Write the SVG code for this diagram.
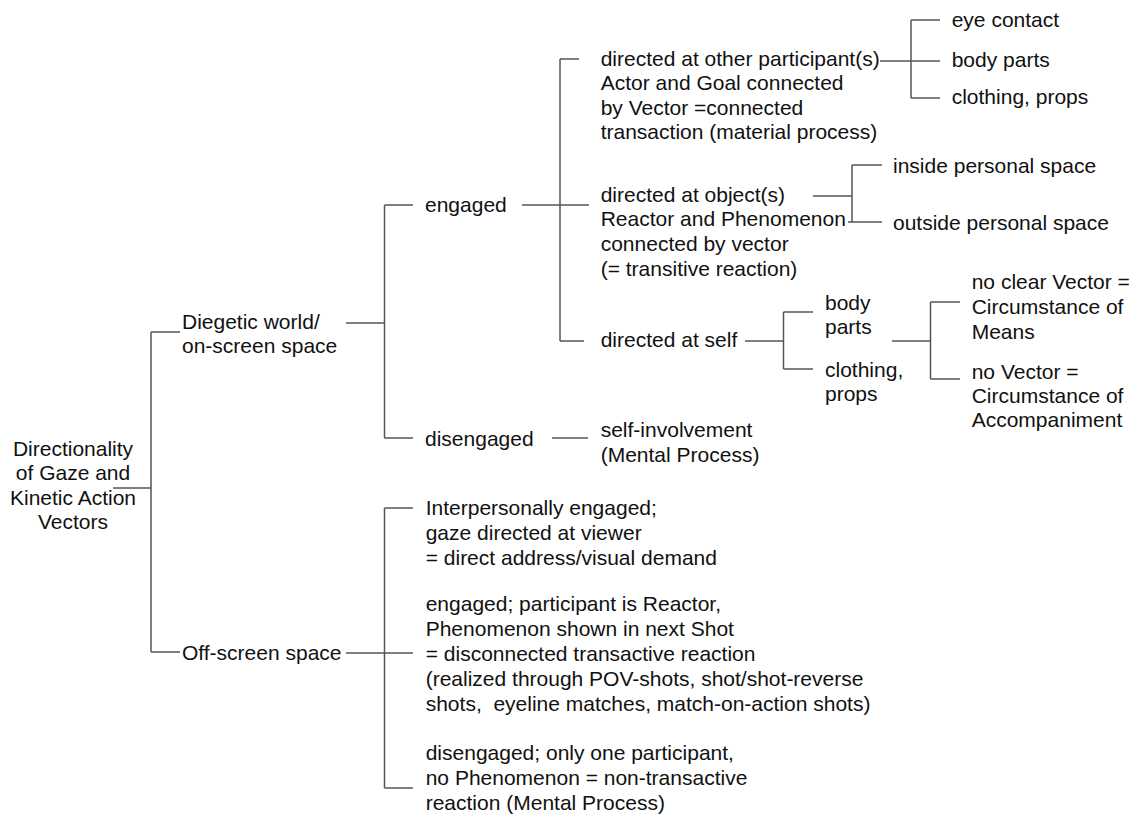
<svg xmlns="http://www.w3.org/2000/svg" width="1136" height="817" viewBox="0 0 1136 817">
<style>
text{font-family:"Liberation Sans",Arial,Helvetica,sans-serif;font-size:21px;fill:#111}
.c line{stroke:#555;stroke-width:1.5;fill:none}
.m{text-anchor:middle}
</style>
<rect width="1136" height="817" fill="#fff"/>
<g class="c" id="connectors">
<line x1="113" y1="488" x2="151" y2="488"/>
<line x1="151" y1="332" x2="151" y2="652"/>
<line x1="151" y1="332" x2="180" y2="332"/>
<line x1="151" y1="652" x2="180" y2="652"/>
<line x1="346" y1="323" x2="384.5" y2="323"/>
<line x1="384.5" y1="205" x2="384.5" y2="438"/>
<line x1="384.5" y1="205" x2="413" y2="205"/>
<line x1="384.5" y1="438" x2="413" y2="438"/>
<line x1="522" y1="205" x2="589" y2="205"/>
<line x1="560" y1="59" x2="560" y2="341"/>
<line x1="560" y1="59" x2="579" y2="59"/>
<line x1="560" y1="341" x2="584" y2="341"/>
<line x1="880" y1="61" x2="940" y2="61"/>
<line x1="911" y1="20" x2="911" y2="98"/>
<line x1="911" y1="20" x2="940" y2="20"/>
<line x1="911" y1="98" x2="940" y2="98"/>
<line x1="813" y1="196" x2="852" y2="196"/>
<line x1="852" y1="165" x2="852" y2="222"/>
<line x1="852" y1="165" x2="882" y2="165"/>
<line x1="848" y1="222" x2="882" y2="222"/>
<line x1="745" y1="341" x2="783.5" y2="341"/>
<line x1="783.5" y1="312" x2="783.5" y2="369"/>
<line x1="783.5" y1="312" x2="813" y2="312"/>
<line x1="783.5" y1="369" x2="813" y2="369"/>
<line x1="892" y1="341" x2="930.5" y2="341"/>
<line x1="930.5" y1="302" x2="930.5" y2="379"/>
<line x1="930.5" y1="302" x2="960" y2="302"/>
<line x1="930.5" y1="379" x2="960" y2="379"/>
<line x1="552" y1="438" x2="588" y2="438"/>
<line x1="346" y1="653" x2="413" y2="653"/>
<line x1="384.5" y1="508" x2="384.5" y2="788"/>
<line x1="384.5" y1="508" x2="413" y2="508"/>
<line x1="384.5" y1="788" x2="413" y2="788"/>
</g>
<g id="root"><text class="m" x="73" y="456">Directionality</text><text class="m" x="73" y="480">of Gaze and</text><text class="m" x="73" y="504.5">Kinetic Action</text><text class="m" x="73" y="528.5">Vectors</text></g>
<g id="diegetic"><text x="182" y="329">Diegetic world/</text><text x="182" y="353">on-screen space</text></g>
<g id="offscreen"><text x="182" y="660">Off-screen space</text></g>
<g id="engaged"><text x="425" y="212">engaged</text></g>
<g id="disengaged"><text x="425" y="446">disengaged</text></g>
<g id="other"><text x="600.7" y="65.5">directed at other participant(s)</text><text x="600.7" y="90">Actor and Goal connected</text><text x="600.7" y="114.5">by Vector =connected</text><text x="600.7" y="139">transaction (material process)</text></g>
<g id="object"><text x="600.7" y="202">directed at object(s)</text><text x="600.7" y="226">Reactor and Phenomenon</text><text x="600.7" y="251">connected by vector</text><text x="600.7" y="276">(= transitive reaction)</text></g>
<g id="self"><text x="600.7" y="347">directed at self</text></g>
<g id="eye"><text x="951.7" y="27">eye contact</text></g>
<g id="bodyparts1"><text x="951.7" y="67">body parts</text></g>
<g id="clothing1"><text x="951.7" y="104">clothing, props</text></g>
<g id="inside"><text x="893" y="173">inside personal space</text></g>
<g id="outside"><text x="893" y="230">outside personal space</text></g>
<g id="bodyparts2"><text x="825" y="310">body</text><text x="825" y="334">parts</text></g>
<g id="clothing2"><text x="825" y="377">clothing,</text><text x="825" y="401">props</text></g>
<g id="means"><text x="971.7" y="288.5">no clear Vector =</text><text x="971.7" y="314">Circumstance of</text><text x="971.7" y="338.5">Means</text></g>
<g id="accomp"><text x="971.7" y="378.5">no Vector =</text><text x="971.7" y="403">Circumstance of</text><text x="971.7" y="427">Accompaniment</text></g>
<g id="selfinv"><text x="600.7" y="437">self-involvement</text><text x="600.7" y="461.5">(Mental Process)</text></g>
<g id="interp"><text x="425.7" y="515">Interpersonally engaged;</text><text x="425.7" y="540">gaze directed at viewer</text><text x="425.7" y="565">= direct address/visual demand</text></g>
<g id="engreactor"><text x="425.7" y="611">engaged; participant is Reactor,</text><text x="425.7" y="636">Phenomenon shown in next Shot</text><text x="425.7" y="661">= disconnected transactive reaction</text><text x="425.7" y="686">(realized through POV-shots, shot/shot-reverse</text><text x="425.7" y="711" xml:space="preserve">shots,  eyeline matches, match-on-action shots)</text></g>
<g id="diseng"><text x="425.7" y="760">disengaged; only one participant,</text><text x="425.7" y="785">no Phenomenon = non-transactive</text><text x="425.7" y="810">reaction (Mental Process)</text></g>
</svg>
